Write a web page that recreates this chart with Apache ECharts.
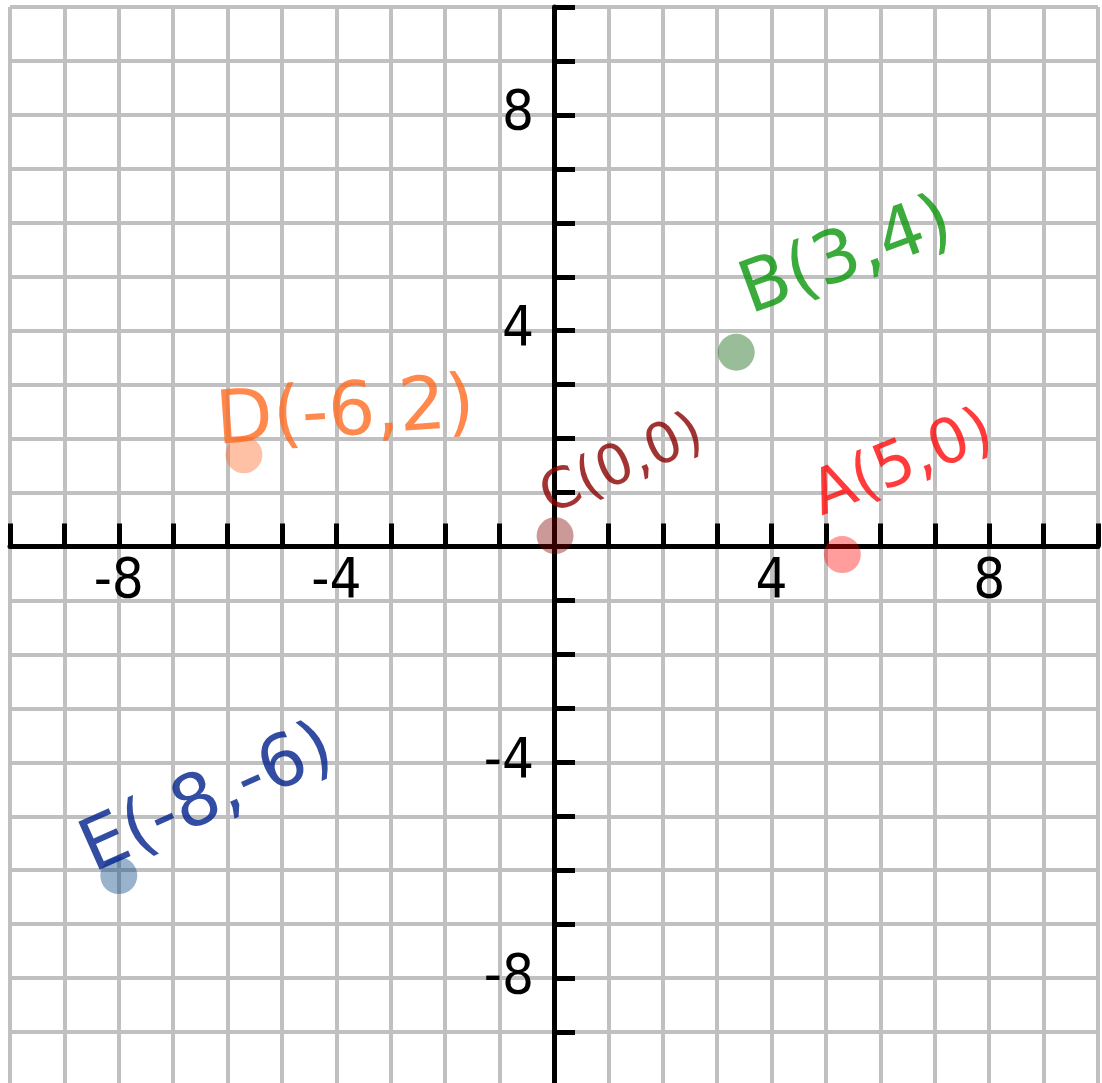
<!DOCTYPE html>
<html>
<head>
<meta charset="utf-8">
<script src="https://cdn.jsdelivr.net/npm/echarts@6/dist/echarts.min.js"></script>
<style>
  html, body { margin: 0; padding: 0; background: #ffffff; }
  #plane { width: 1102px; height: 1083px; }
</style>
</head>
<body>
<div id="plane"></div>
<script>
// plotted points
const pointNames = ["A", "B", "C", "D", "E"];
const pointX = [5.3, 3.35, 0.02, -5.7, -8];
const pointY = [-0.15, 3.6, 0.2, 1.7, -6.1];
const pointLabels = ["A(5,0)", "B(3,4)", "C(0,0)", "D(-6,2)", "E(-8,-6)"];

// axis range and the numbers printed on the axes
const axisMin = -10;
const axisMax = 10;
const tickLabels = [-8, -4, 4, 8];

// per point look: dot colour, label colour, label offset / tilt
const pointStyles = [
  { dot: "rgba(255,0,0,0.48)",   ink: "#ff0a0a", offset: [90, -60], rotate: 22, size: 62 },
  { dot: "rgba(0,90,0,0.5)",     ink: "#0a960a", offset: [136, -50], rotate: 20, size: 72 },
  { dot: "rgba(128,0,0,0.5)",    ink: "#8b0000", offset: [90, -36], rotate: 24, size: 56 },
  { dot: "rgba(255,100,30,0.5)", ink: "#ff6a20", offset: [104, -32], rotate: 4, size: 74 },
  { dot: "rgba(0,64,128,0.5)",   ink: "#00208c", offset: [112, -32], rotate: 24, size: 72 }
];

const gridBox = { left: 10, top: 7, width: 1088, height: 1079 };

const chart = echarts.init(document.getElementById("plane"));

const tickFont = {
  fontFamily: "'Liberation Sans Narrow', 'DejaVu Sans Condensed', sans-serif",
  fontSize: 56,
  color: "#000000"
};

function axisText(value) {
  return tickLabels.indexOf(value) >= 0 ? String(value) : "";
}

// pull each axis in from the grid edge to the zero line
function zeroOffset(size) {
  return -size * (0 - axisMin) / (axisMax - axisMin);
}

function buildAxis(isX) {
  return {
    type: "value",
    min: axisMin,
    max: axisMax,
    interval: 1,
    position: isX ? "bottom" : "left",
    offset: zeroOffset(isX ? gridBox.height : gridBox.width),
    axisLine: {
      onZero: false,
      lineStyle: { color: "#000000", width: 5 }
    },
    axisTick: {
      show: true,
      inside: true,
      length: isX ? 23 : 21,
      lineStyle: { color: "#000000", width: 5 }
    },
    axisLabel: Object.assign({
      margin: isX ? 8 : 20,
      formatter: axisText,
      showMinLabel: true,
      showMaxLabel: true
    }, tickFont),
    splitLine: {
      show: true,
      lineStyle: { color: "#c0c0c0", width: 4 }
    }
  };
}

const points = pointNames.map((name, i) => ({
  name,
  value: [pointX[i], pointY[i]],
  itemStyle: { color: pointStyles[i].dot },
  label: {
    show: true,
    formatter: pointLabels[i],
    color: pointStyles[i].ink,
    fontSize: pointStyles[i].size,
    position: "inside",
    offset: pointStyles[i].offset,
    rotate: pointStyles[i].rotate
  }
}));

chart.setOption({
  animation: false,
  backgroundColor: "#ffffff",
  grid: Object.assign({
    containLabel: false,
    outerBoundsMode: "none"
  }, gridBox),
  xAxis: buildAxis(true),
  yAxis: buildAxis(false),
  series: [
    {
      type: "scatter",
      symbol: "circle",
      symbolSize: 37,
      data: points,
      label: {
        fontFamily: "'DejaVu Sans', sans-serif"
      },
      z: 5
    }
  ]
});
</script>
</body>
</html>
